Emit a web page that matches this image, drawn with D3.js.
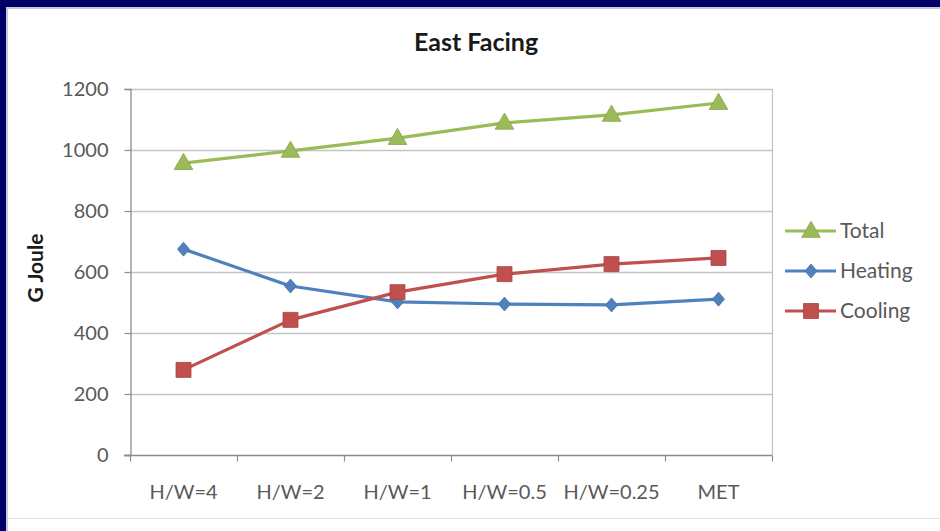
<!DOCTYPE html>
<html>
<head>
<meta charset="utf-8">
<script src="https://cdn.jsdelivr.net/npm/d3@7"></script>
<style>
  html, body { margin: 0; padding: 0; background: #ffffff; }
  svg { display: block; }
</style>
</head>
<body>
<svg id="chart" width="940" height="531"></svg>
<script>
// Annual energy use by street aspect ratio, east-facing orientation
const categories = ["H/W=4", "H/W=2", "H/W=1", "H/W=0.5", "H/W=0.25", "MET"];
const totalValues = [957, 997, 1039, 1089, 1115, 1154];
const heatingValues = [675, 554, 502, 495, 492, 511];
const coolingValues = [279, 443, 534, 593, 626, 646];
const yTicks = [0, 200, 400, 600, 800, 1000, 1200];

const series = [
  { name: "Total", values: totalValues, color: "#9bbb59", marker: "triangle" },
  { name: "Heating", values: heatingValues, color: "#4f81bd", marker: "diamond" },
  { name: "Cooling", values: coolingValues, color: "#c0504d", marker: "square" }
];

const svg = d3.select("#chart");
const W = 940, H = 531;
const plot = { left: 130, right: 772, top: 89, bottom: 455 };
const font = "Lato, 'Open Sans', sans-serif";
const textColor = "#595959";

// frame
svg.append("rect").attr("x", 0).attr("y", 0).attr("width", W).attr("height", H).attr("fill", "#ffffff");
svg.append("rect").attr("x", 0).attr("y", 0).attr("width", W).attr("height", 7).attr("fill", "#000066");
svg.append("rect").attr("x", 0).attr("y", 0).attr("width", 6).attr("height", H).attr("fill", "#000066");
svg.append("line").attr("x1", 6).attr("x2", W).attr("y1", 8).attr("y2", 8).attr("stroke", "#b8b8c8").attr("stroke-width", 1.5);
svg.append("line").attr("x1", 7).attr("x2", 7).attr("y1", 8).attr("y2", H).attr("stroke", "#b8b8c8").attr("stroke-width", 1.5);
svg.append("line").attr("x1", 7).attr("x2", W).attr("y1", 518.5).attr("y2", 518.5).attr("stroke", "#e4e4e4").attr("stroke-width", 1);

const x = d3.scaleBand().domain(categories).range([plot.left, plot.right]);
const y = d3.scaleLinear().domain([0, 1200]).range([plot.bottom, plot.top]);
const cx = c => x(c) + x.bandwidth() / 2;

// gridlines
svg.append("g")
  .selectAll("line")
  .data(yTicks.filter(t => t > 0))
  .join("line")
  .attr("x1", plot.left).attr("x2", plot.right)
  .attr("y1", d => Math.round(y(d)) + 0.5).attr("y2", d => Math.round(y(d)) + 0.5)
  .attr("stroke", "#c4c4c4").attr("stroke-width", 1.3);

// plot area right edge
svg.append("line")
  .attr("x1", plot.right + 0.5).attr("x2", plot.right + 0.5)
  .attr("y1", plot.top).attr("y2", plot.bottom)
  .attr("stroke", "#b8c2d0").attr("stroke-width", 1.2);

// y axis
const yAxis = svg.append("g")
  .attr("transform", `translate(${plot.left + 0.5},0)`)
  .call(d3.axisLeft(y).tickValues(yTicks).tickSize(6).tickPadding(16).tickFormat(d3.format("d")));
yAxis.select(".domain").attr("stroke", "#8c8c8c").attr("stroke-width", 1.3);
yAxis.selectAll(".tick line").attr("stroke", "#8c8c8c").attr("stroke-width", 1.2);
yAxis.selectAll(".tick text")
  .attr("fill", textColor).style("font-family", font).style("font-size", "20px");

// x axis with ticks on category boundaries
const xAxisG = svg.append("g").attr("transform", `translate(0,${plot.bottom + 0.5})`);
xAxisG.append("line")
  .attr("x1", plot.left - 6).attr("x2", plot.right)
  .attr("stroke", "#8c8c8c").attr("stroke-width", 1.3);
const boundaries = categories.map(c => x(c)).concat([plot.right]);
xAxisG.selectAll("line.bt")
  .data(boundaries)
  .join("line").attr("class", "bt")
  .attr("x1", d => Math.round(d) + 0.5).attr("x2", d => Math.round(d) + 0.5)
  .attr("y1", 0).attr("y2", 6)
  .attr("stroke", "#8c8c8c").attr("stroke-width", 1.2);
xAxisG.selectAll("text")
  .data(categories)
  .join("text")
  .attr("x", d => cx(d))
  .attr("y", 43)
  .attr("text-anchor", "middle")
  .attr("fill", textColor)
  .style("font-family", font).style("font-size", "20px")
  .text(d => d);

// title and axis label
svg.append("text")
  .attr("x", 476).attr("y", 51)
  .attr("text-anchor", "middle")
  .attr("fill", "#1a1a1a")
  .style("font-family", font).style("font-size", "25px").style("font-weight", "bold")
  .text("East Facing");

svg.append("text")
  .attr("transform", `translate(43,268) rotate(-90)`)
  .attr("text-anchor", "middle")
  .attr("fill", "#1a1a1a")
  .style("font-family", font).style("font-size", "21px").style("font-weight", "bold")
  .text("G Joule");

// marker shapes
function markerPath(kind) {
  if (kind === "triangle") return d3.symbol(d3.symbolTriangle, 150)();
  if (kind === "diamond") return "M0,-7L6,0L0,7L-6,0Z";
  return "M-7.5,-7.5H7.5V7.5H-7.5Z";
}

const line = d3.line().x((d, i) => cx(categories[i])).y(d => y(d));

series.forEach(s => {
  const g = svg.append("g");
  g.append("path")
    .datum(s.values)
    .attr("d", line)
    .attr("fill", "none")
    .attr("stroke", s.color)
    .attr("stroke-width", 3.2)
    .attr("stroke-linejoin", "round");
  g.selectAll("path.m")
    .data(s.values)
    .join("path").attr("class", "m")
    .attr("transform", (d, i) => `translate(${cx(categories[i])},${y(d) + (s.marker === "triangle" ? 1 : 0)})`)
    .attr("d", markerPath(s.marker))
    .attr("fill", s.color)
    .attr("stroke", d3.color(s.color).darker(0.4))
    .attr("stroke-width", 0.8);
});

// legend
const legend = svg.append("g");
series.forEach((s, i) => {
  const ly = 231 + i * 40;
  legend.append("line")
    .attr("x1", 785).attr("x2", 836)
    .attr("y1", ly).attr("y2", ly)
    .attr("stroke", s.color).attr("stroke-width", 3.2);
  legend.append("path")
    .attr("transform", `translate(811,${ly + (s.marker === "triangle" ? 1 : 0)})`)
    .attr("d", markerPath(s.marker))
    .attr("fill", s.color)
    .attr("stroke", d3.color(s.color).darker(0.4))
    .attr("stroke-width", 0.8);
  legend.append("text")
    .attr("x", 840).attr("y", ly + 7)
    .attr("fill", textColor)
    .style("font-family", font).style("font-size", "21px")
    .text(s.name);
});
</script>
</body>
</html>
